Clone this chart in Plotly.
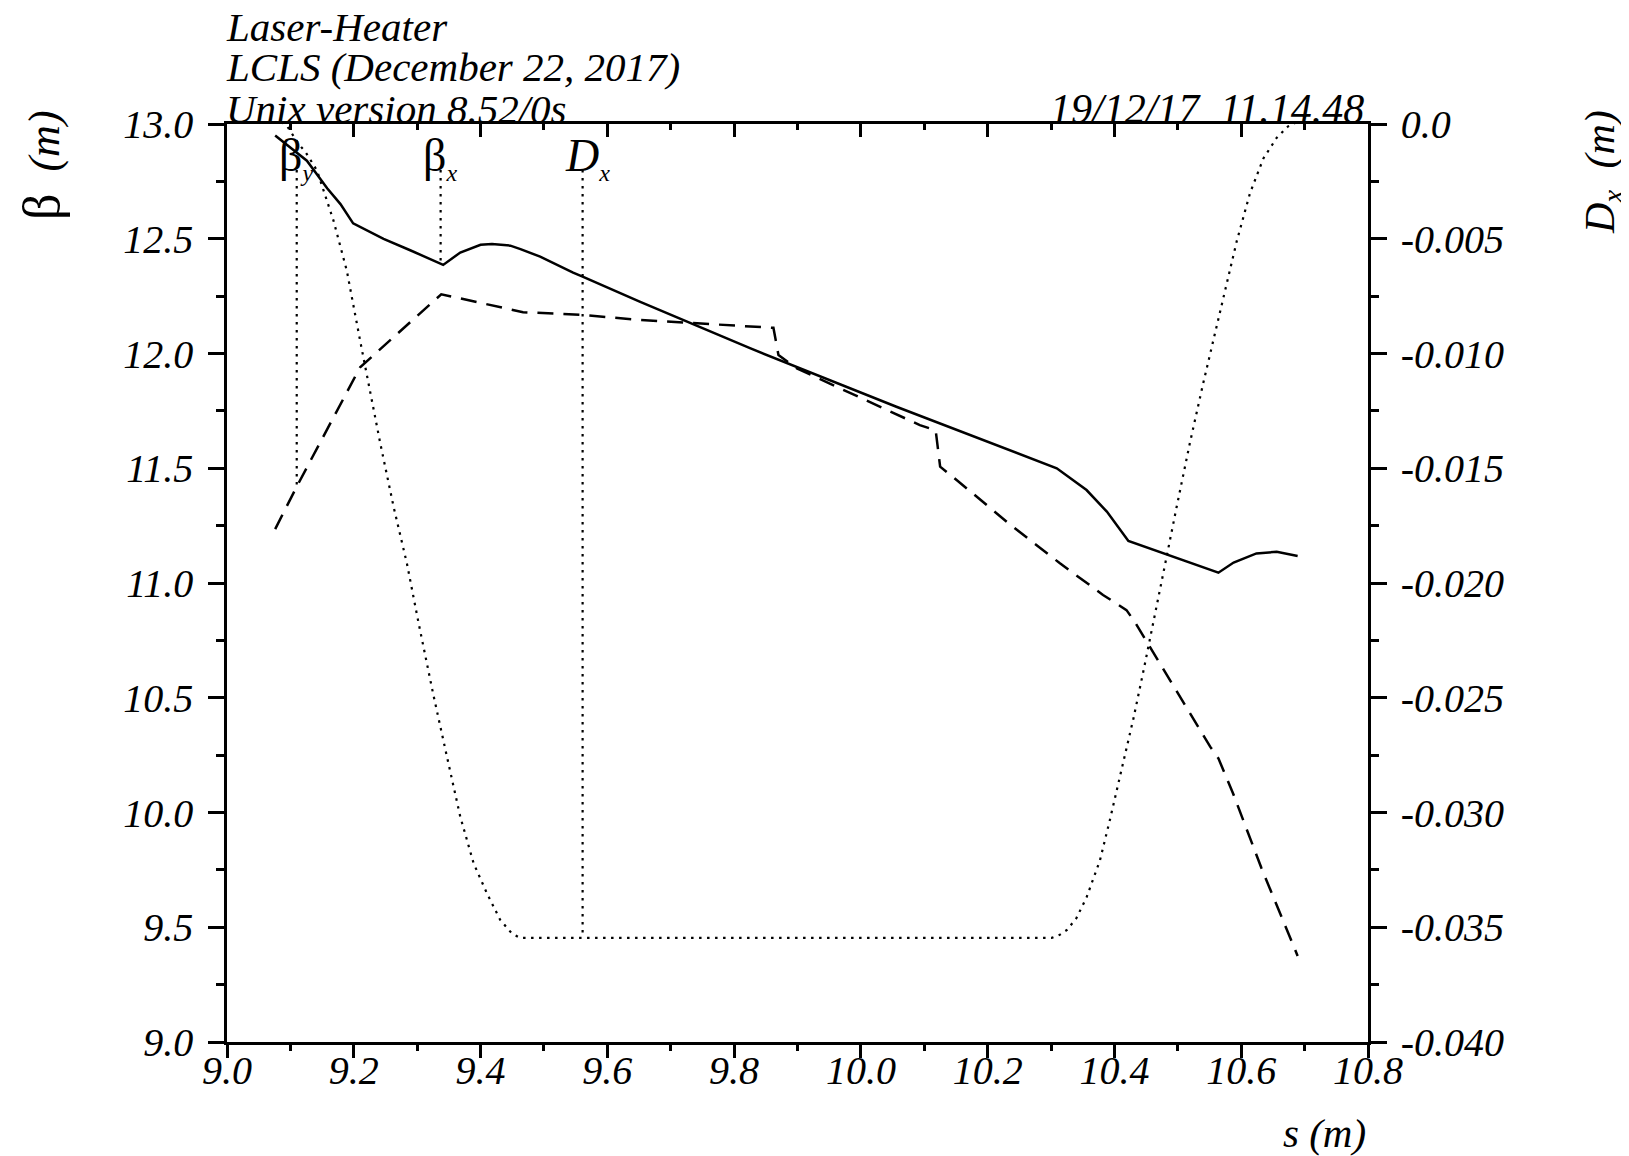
import numpy as np
import plotly.graph_objects as go

# ---------------- data ----------------
s_betx = [9.076, 9.126, 9.158, 9.179, 9.199, 9.247, 9.289, 9.341, 9.368, 9.400, 9.418,
          9.447, 9.463, 9.494, 9.546, 9.561, 9.651, 9.825, 10.056, 10.219, 10.309,
          10.356, 10.388, 10.422, 10.477, 10.519, 10.564, 10.588, 10.624, 10.656, 10.689]
betx = [12.950, 12.840, 12.720, 12.651, 12.567, 12.499, 12.450, 12.386, 12.440, 12.474, 12.477,
        12.470, 12.455, 12.422, 12.352, 12.335, 12.226, 12.023, 11.768, 11.594, 11.500,
        11.405, 11.311, 11.183, 11.129, 11.086, 11.045, 11.089, 11.129, 11.136, 11.118]

s_bety = [9.076, 9.110, 9.210, 9.279, 9.338, 9.467, 9.561, 9.651, 9.862, 9.870, 9.899,
          10.093, 10.118, 10.125, 10.151, 10.233, 10.314, 10.382, 10.419, 10.432, 10.464,
          10.506, 10.551, 10.564, 10.587, 10.632, 10.689]
bety = [11.235, 11.420, 11.940, 12.112, 12.258, 12.180, 12.168, 12.146, 12.112, 11.993, 11.935,
        11.688, 11.665, 11.507, 11.449, 11.260, 11.086, 10.948, 10.882, 10.831, 10.686,
        10.490, 10.287, 10.236, 10.084, 9.757, 9.375]

s_dx = [9.076, 9.095, 9.113, 9.124, 9.134, 9.142, 9.168, 9.189, 9.210, 9.221, 9.242, 9.263,
        9.284, 9.302, 9.325, 9.347, 9.368, 9.389, 9.410, 9.431, 9.449, 9.462,
        10.301, 10.313, 10.325, 10.340, 10.356, 10.377, 10.393, 10.414, 10.430, 10.446,
        10.461, 10.482, 10.498, 10.519, 10.540, 10.556, 10.577, 10.593, 10.614, 10.635,
        10.656, 10.674, 10.689]
dx = [0.0003, -0.0001, -0.00087, -0.00123, -0.00167, -0.00203, -0.00421, -0.00639, -0.00944,
      -0.01104, -0.01394, -0.01670, -0.01917, -0.02171, -0.02480, -0.02757, -0.03018, -0.03221,
      -0.03352, -0.03468, -0.03526, -0.03546,
      -0.03546, -0.03534, -0.03512, -0.03460, -0.03370, -0.03210, -0.03030, -0.02780, -0.02590,
      -0.02380, -0.02170, -0.01890, -0.01670, -0.01390, -0.01130, -0.00940, -0.00690, -0.00510,
      -0.00300, -0.00150, -0.00060, -0.00010, 0.00010]

# curve-label positions (s) and texts
label_s = [9.110, 9.337, 9.561]
SUB = "<sub><span style='font-size:24px'><i>{}</i></span></sub>"
label_text = ["β" + SUB.format("y"), "β" + SUB.format("x"), "<i>D</i>" + SUB.format("x")]

# axes
x_range = [9.0, 10.8]
beta_range = [9.0, 13.0]
d_range = [-0.040, 0.0]
d_tickvals = [0.0, -0.005, -0.010, -0.015, -0.020, -0.025, -0.030, -0.035, -0.040]
d_ticktext = ["0.0", "-0.005", "-0.010", "-0.015", "-0.020", "-0.025", "-0.030", "-0.035", "-0.040"]

title_lines = ["Laser-Heater", "LCLS (December 22, 2017)", "Unix version 8.52/0s"]
date_text = "19/12/17\u00a0\u00a011.14.48"

# ---------------- figure ----------------
FONT = "Liberation Serif, Times New Roman, serif"
OFF = 8  # page body margin
W, H = 1629 - OFF, 1156 - OFF
L, T = 227 - OFF, 124 - OFF
R, B = W - (1368 - OFF), H - (1042 - OFF)

fig = go.Figure()
dot = "2.5px,5.5px"

fig.add_trace(go.Scatter(x=s_betx, y=betx, mode="lines",
                         line=dict(color="black", width=2.5), xaxis="x", yaxis="y"))
fig.add_trace(go.Scatter(x=s_bety, y=bety, mode="lines",
                         line=dict(color="black", width=2.5, dash="16px,10px"), xaxis="x", yaxis="y"))
fig.add_trace(go.Scatter(x=s_dx, y=dx, mode="lines",
                         line=dict(color="black", width=2.2, dash=dot), xaxis="x", yaxis="y2"))

# curve-label marker lines: from just below the label down to the curve
frac_top = 0.05
beta_top = beta_range[1] - frac_top * (beta_range[1] - beta_range[0])
d_top = d_range[1] - frac_top * (d_range[1] - d_range[0])
fig.add_trace(go.Scatter(x=[label_s[0]] * 2,
                         y=[beta_top, float(np.interp(label_s[0], s_bety, bety))],
                         mode="lines", line=dict(color="black", width=2.2, dash=dot), yaxis="y"))
fig.add_trace(go.Scatter(x=[label_s[1]] * 2,
                         y=[beta_top, float(np.interp(label_s[1], s_betx, betx))],
                         mode="lines", line=dict(color="black", width=2.2, dash=dot), yaxis="y"))
fig.add_trace(go.Scatter(x=[label_s[2]] * 2,
                         y=[d_top, float(np.interp(label_s[2], s_dx, dx))],
                         mode="lines", line=dict(color="black", width=2.2, dash=dot), yaxis="y2"))

# invisible traces to activate the tick-only axes
for xa in ("x2", "x3"):
    fig.add_trace(go.Scatter(x=x_range, y=beta_range, mode="markers", marker=dict(opacity=0),
                             xaxis=xa, yaxis="y", hoverinfo="skip"))

tickfont = dict(family=FONT, size=40, color="black", style="italic")
axis_common = dict(showline=True, linecolor="black", linewidth=2.5, showgrid=False,
                   zeroline=False, tickcolor="black", tickwidth=2.5)

fig.update_layout(
    width=W, height=H, margin=dict(l=L, r=R, t=T, b=B),
    paper_bgcolor="white", plot_bgcolor="white", showlegend=False,
    # bottom axis: labels only
    xaxis=dict(range=x_range, dtick=0.2, tick0=9.0, tickformat=".1f", ticks="",
               tickfont=tickfont, ticklabelstandoff=-9, **axis_common),
    # bottom axis: ticks only
    xaxis3=dict(range=x_range, overlaying="x", side="bottom", dtick=0.2, tick0=9.0,
                ticks="outside", ticklen=13, showticklabels=False,
                minor=dict(ticks="outside", ticklen=6, dtick=0.1, tickwidth=2.5, tickcolor="black"),
                **axis_common),
    # top axis: inward ticks
    xaxis2=dict(range=x_range, overlaying="x", side="top", dtick=0.2, tick0=9.0,
                ticks="inside", ticklen=13, showticklabels=False,
                minor=dict(ticks="inside", ticklen=6, dtick=0.1, tickwidth=2.5, tickcolor="black"),
                **axis_common),
    yaxis=dict(range=beta_range, dtick=0.5, tick0=9.0, tickformat=".1f", ticks="outside",
               ticklen=16, tickfont=tickfont, ticklabelstandoff=7,
               minor=dict(ticks="outside", ticklen=8, dtick=0.25, tickwidth=2.5, tickcolor="black"),
               **axis_common),
    yaxis2=dict(range=d_range, overlaying="y", side="right", tickvals=d_tickvals,
                ticktext=d_ticktext, ticks="outside", ticklen=16, tickfont=tickfont,
                ticklabelstandoff=6,
                minor=dict(ticks="outside", ticklen=8, dtick=0.0025, tickwidth=2.5, tickcolor="black"),
                **axis_common),
)

ann_font = dict(family=FONT, size=41, color="black")
anns = []
title_shift = [72, 32, -10]
for line, ys in zip(title_lines, title_shift):
    anns.append(dict(text=f"<i>{line}</i>", xref="paper", yref="paper", x=0, y=1,
                     xanchor="left", yanchor="bottom", xshift=-3, yshift=ys,
                     showarrow=False, font=ann_font))
anns.append(dict(text=f"<i>{date_text}</i>", xref="paper", yref="paper", x=1, y=1,
                 xanchor="right", yanchor="bottom", xshift=-2, yshift=-10,
                 showarrow=False, font=dict(family=FONT, size=42, color="black")))
for sx, txt in zip(label_s, label_text):
    anns.append(dict(text=txt, xref="x", yref="paper", x=sx, y=1, xanchor="left",
                     yanchor="top", xshift=-20, yshift=-4, showarrow=False,
                     font=dict(family=FONT, size=46, color="black")))
# axis titles
anns.append(dict(text="<span style='font-size:52px'>β</span>\u00a0\u00a0<i>(m)</i>",
                 xref="paper", yref="paper", x=0, y=1,
                 xanchor="center", yanchor="top", xshift=-186, yshift=16, textangle=-90,
                 showarrow=False, font=dict(family=FONT, size=44, color="black")))
anns.append(dict(text="<i>D</i><sub><i>x</i></sub>\u00a0\u00a0<i>(m)</i>",
                 xref="paper", yref="paper",
                 x=1, y=1, xanchor="center", yanchor="top", xshift=235, yshift=16, textangle=-90,
                 showarrow=False, font=dict(family=FONT, size=42, color="black")))
anns.append(dict(text="<i>s (m)</i>", xref="paper", yref="paper", x=1, y=0, xanchor="right",
                 yanchor="top", xshift=0, yshift=-66, showarrow=False, font=ann_font))
fig.update_layout(annotations=anns)

fig.write_html("out.html")
